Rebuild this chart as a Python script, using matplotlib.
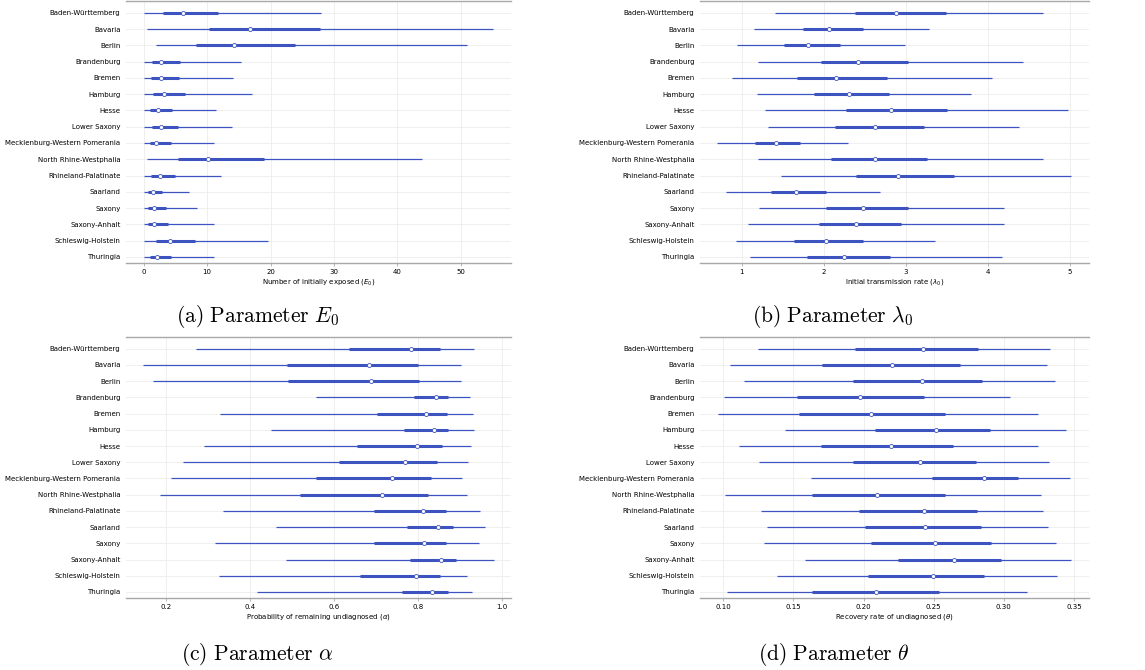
import numpy as np
import matplotlib
matplotlib.use("Agg")
import matplotlib.pyplot as plt

plt.rcParams['font.family'] = 'DejaVu Sans'
plt.rcParams['mathtext.fontset'] = 'dejavusans'

# ── 1. Données : HDI 94 %, interquartile, médiane par Land ─────────────
states = ["Baden-Württemberg", "Bavaria", "Berlin", "Brandenburg", "Bremen",
          "Hamburg", "Hesse", "Lower Saxony", "Mecklenburg-Western Pomerania",
          "North Rhine-Westphalia", "Rhineland-Palatinate", "Saarland", "Saxony",
          "Saxony-Anhalt", "Schleswig-Holstein", "Thuringia"]

e0_low = [0.05, 0.5, 1.9, 0.05, 0.05, 0.05, 0.05, 0.05, 0.05, 0.5, 0.05, 0.05, 0.05, 0.05, 0.05, 0.05]
e0_q1 = [3.0, 10.3, 8.3, 1.3, 1.2, 1.5, 0.95, 1.25, 1.0, 5.35, 1.2, 0.7, 0.75, 0.75, 2.0, 0.95]
e0_med = [6.2, 16.7, 14.2, 2.8, 2.8, 3.25, 2.2, 2.7, 2.0, 10.2, 2.5, 1.5, 1.7, 1.7, 4.1, 2.1]
e0_q3 = [11.7, 27.8, 23.9, 5.7, 5.5, 6.5, 4.5, 5.4, 4.25, 18.9, 4.9, 2.9, 3.55, 3.8, 8.1, 4.25]
e0_high = [27.9, 55.1, 50.9, 15.4, 14.1, 17.1, 11.4, 13.9, 11.06, 43.8, 12.2, 7.1, 8.4, 11.1, 19.65, 11.1]

lam_low = [1.40, 1.15, 0.94, 1.20, 0.88, 1.18, 1.28, 1.32, 0.70, 1.20, 1.48, 0.81, 1.21, 1.07, 0.93, 1.10]
lam_q1 = [2.38, 1.74, 1.51, 1.96, 1.67, 1.88, 2.27, 2.14, 1.16, 2.09, 2.39, 1.36, 2.03, 1.94, 1.64, 1.79]
lam_med = [2.88, 2.06, 1.81, 2.42, 2.15, 2.30, 2.82, 2.62, 1.41, 2.62, 2.90, 1.66, 2.47, 2.39, 2.02, 2.24]
lam_q3 = [3.49, 2.48, 2.20, 3.02, 2.77, 2.79, 3.50, 3.22, 1.71, 3.26, 3.59, 2.03, 3.03, 2.94, 2.48, 2.81]
lam_high = [4.67, 3.28, 2.99, 4.42, 4.05, 3.79, 4.98, 4.38, 2.29, 4.67, 5.01, 2.68, 4.19, 4.20, 3.35, 4.17]

alpha_low = [0.271, 0.145, 0.169, 0.556, 0.328, 0.450, 0.291, 0.240, 0.211, 0.186, 0.336, 0.461, 0.318, 0.485, 0.326, 0.417]
alpha_q1 = [0.636, 0.488, 0.490, 0.790, 0.702, 0.766, 0.655, 0.611, 0.558, 0.518, 0.694, 0.774, 0.696, 0.780, 0.662, 0.762]
alpha_med = [0.784, 0.683, 0.688, 0.842, 0.819, 0.837, 0.797, 0.770, 0.739, 0.713, 0.812, 0.847, 0.813, 0.854, 0.795, 0.834]
alpha_q3 = [0.852, 0.799, 0.802, 0.871, 0.868, 0.872, 0.856, 0.846, 0.831, 0.824, 0.867, 0.883, 0.867, 0.889, 0.852, 0.871]
alpha_high = [0.933, 0.903, 0.901, 0.924, 0.930, 0.932, 0.925, 0.918, 0.905, 0.917, 0.947, 0.959, 0.945, 0.981, 0.916, 0.929]

theta_low = [0.1245, 0.1048, 0.1147, 0.1005, 0.0960, 0.1437, 0.1112, 0.1257, 0.1627, 0.1014, 0.1271, 0.1309, 0.1288, 0.1585, 0.1380, 0.1024]
theta_q1 = [0.1936, 0.1701, 0.1924, 0.1523, 0.1539, 0.2084, 0.1694, 0.1924, 0.2485, 0.1630, 0.1965, 0.2010, 0.2050, 0.2245, 0.2031, 0.1630]
theta_med = [0.2421, 0.2200, 0.2416, 0.1972, 0.2053, 0.2516, 0.2195, 0.2402, 0.2856, 0.2096, 0.2433, 0.2440, 0.2509, 0.2642, 0.2495, 0.2086]
theta_q3 = [0.2816, 0.2685, 0.2842, 0.2431, 0.2578, 0.2901, 0.2637, 0.2799, 0.3098, 0.2578, 0.2808, 0.2839, 0.2906, 0.2982, 0.2858, 0.2540]
theta_high = [0.3331, 0.3307, 0.3362, 0.3044, 0.3241, 0.3443, 0.3241, 0.3324, 0.3474, 0.3267, 0.3279, 0.3317, 0.3369, 0.3479, 0.3381, 0.3163]

BLEU = "#3d53c0"

# ── 2. Forest plot ───────────────────────────────────────
def forest(ax, low, q1, med, q3, high, xlabel, xlim, xticks, ticklabels):
    y = np.arange(len(states))[::-1]
    for i in range(len(states)):
        ax.plot([low[i], high[i]], [y[i], y[i]], color=BLEU, lw=0.9, solid_capstyle='butt', zorder=2)
        ax.plot([q1[i], q3[i]], [y[i], y[i]], color=BLEU, lw=2.2, solid_capstyle='butt', zorder=3)
    ax.plot(med, y, 'o', ms=2.9, mfc='white', mec=BLEU, mew=0.6, zorder=4)
    ax.set_yticks(y)
    ax.set_yticklabels(states, fontsize=5)
    ax.set_ylim(-0.37, len(states) - 1 + 0.72)
    ax.set_xlim(*xlim)
    ax.set_xticks(xticks)
    ax.set_xticklabels(ticklabels, fontsize=5)
    ax.set_xlabel(xlabel, fontsize=5, labelpad=1.5)
    ax.grid(True, color='#ececec', lw=0.6)
    ax.set_axisbelow(True)
    for side in ['left', 'right']:
        ax.spines[side].set_visible(False)
    for side in ['top', 'bottom']:
        ax.spines[side].set_color('#a8a8a8')
        ax.spines[side].set_linewidth(1.0)
    ax.tick_params(axis='y', length=0, pad=4)
    ax.tick_params(axis='x', length=2.5, width=0.6, color='#a8a8a8', pad=1.5)

fig = plt.figure(figsize=(11.45, 6.7), dpi=100)

ax_a = fig.add_axes([0.110, 0.6075, 0.3363, 0.391])
ax_b = fig.add_axes([0.6114, 0.6075, 0.3397, 0.391])
ax_c = fig.add_axes([0.110, 0.1075, 0.3363, 0.3895])
ax_d = fig.add_axes([0.6114, 0.1075, 0.3397, 0.3895])

forest(ax_a, e0_low, e0_q1, e0_med, e0_q3, e0_high,
       r"Number of initially exposed ($E_0$)", (-2.8, 57.9),
       [0, 10, 20, 30, 40, 50], ["0", "10", "20", "30", "40", "50"])
forest(ax_b, lam_low, lam_q1, lam_med, lam_q3, lam_high,
       r"Initial transmission rate ($\lambda_0$)", (0.49, 5.23),
       [1, 2, 3, 4, 5], ["1", "2", "3", "4", "5"])
forest(ax_c, alpha_low, alpha_q1, alpha_med, alpha_q3, alpha_high,
       r"Probability of remaining undiagnosed ($\alpha$)", (0.105, 1.021),
       [0.2, 0.4, 0.6, 0.8, 1.0], ["0.2", "0.4", "0.6", "0.8", "1.0"])
forest(ax_d, theta_low, theta_q1, theta_med, theta_q3, theta_high,
       r"Recovery rate of undiagnosed ($\theta$)", (0.0834, 0.3607),
       [0.10, 0.15, 0.20, 0.25, 0.30, 0.35], ["0.10", "0.15", "0.20", "0.25", "0.30", "0.35"])

# ── 3. Légendes des sous-figures ─────────────────────────
captions = [r"$\mathrm{(a)\ Parameter\ }E_0$", r"$\mathrm{(b)\ Parameter\ }\lambda_0$",
            r"$\mathrm{(c)\ Parameter\ }\alpha$", r"$\mathrm{(d)\ Parameter\ }\theta$"]
cap_pos = [(258 / 1145, 1 - 316 / 670), (833 / 1145, 1 - 316 / 670),
           (257 / 1145, 1 - 655 / 670), (834 / 1145, 1 - 655 / 670)]
for txt, (cx, cy) in zip(captions, cap_pos):
    t = fig.text(cx, cy, txt, ha='center', va='center', fontsize=15.5)
    t.set_math_fontfamily('cm')

fig.savefig("out.png", dpi=100)
